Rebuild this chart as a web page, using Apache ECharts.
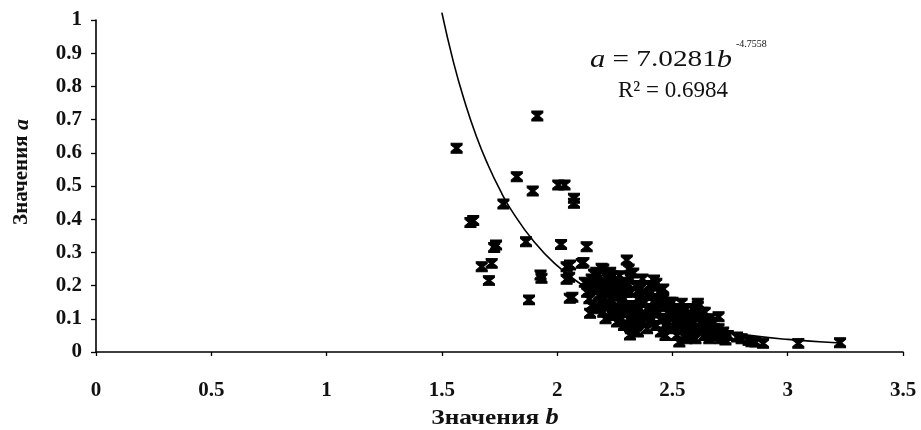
<!DOCTYPE html>
<html>
<head>
<meta charset="utf-8">
<script src="https://cdn.jsdelivr.net/npm/echarts@6/dist/echarts.min.js"></script>
<style>html,body{margin:0;padding:0;background:#fff;}#c{width:921px;height:430px;}</style>
</head>
<body>
<div id="c"></div>
<script>
const samples = [
  [1.564,0.614],[1.914,0.711],[1.825,0.528],[1.894,0.485],[2.005,0.503],[2.032,0.503],
  [2.073,0.463],[2.073,0.448],[1.767,0.446],[1.624,0.390],[1.636,0.396],[1.735,0.322],
  [1.727,0.315],[1.865,0.332],[2.017,0.324],[2.128,0.317],[1.673,0.257],[1.716,0.267],
  [1.704,0.215],[1.928,0.232],[1.932,0.222],[1.878,0.157],[2.041,0.257],[2.056,0.262],
  [2.041,0.219],[2.052,0.225],[2.055,0.162],[2.066,0.165],[2.107,0.267],[2.114,0.270],
  [2.143,0.117],[2.302,0.277],[2.316,0.051],[2.193,0.252],
  [2.12,0.21],[2.13,0.18],[2.14,0.16],[2.15,0.22],[2.15,0.14],[2.16,0.19],[2.17,0.24],
  [2.17,0.13],[2.18,0.17],[2.19,0.21],[2.19,0.15],[2.20,0.12],[2.20,0.25],[2.21,0.18],[2.21,0.10],
  [2.22,0.22],[2.22,0.14],[2.23,0.16],[2.23,0.24],[2.24,0.11],[2.24,0.19],[2.25,0.13],[2.25,0.21],
  [2.26,0.17],[2.26,0.09],[2.27,0.23],[2.27,0.15],[2.28,0.12],[2.28,0.19],[2.29,0.08],[2.29,0.16],
  [2.30,0.21],[2.30,0.13],
  [2.31,0.25],[2.31,0.10],[2.32,0.18],[2.32,0.07],[2.33,0.238],[2.33,0.14],[2.34,0.11],[2.34,0.20],
  [2.35,0.16],[2.35,0.06],[2.36,0.13],[2.36,0.19],[2.37,0.09],[2.37,0.22],[2.38,0.15],[2.38,0.11],
  [2.39,0.17],[2.39,0.07],[2.40,0.13],[2.40,0.20],
  [2.41,0.10],[2.42,0.217],[2.42,0.15],[2.43,0.207],[2.43,0.08],[2.44,0.12],[2.44,0.18],[2.45,0.06],
  [2.45,0.14],[2.46,0.10],[2.46,0.16],[2.47,0.136],[2.47,0.05],[2.48,0.12],[2.48,0.09],[2.49,0.15],
  [2.50,0.07],[2.50,0.11],
  [2.51,0.13],[2.52,0.05],[2.52,0.09],[2.53,0.03],[2.53,0.12],[2.54,0.147],[2.54,0.07],[2.55,0.10],
  [2.56,0.04],[2.56,0.13],[2.57,0.08],[2.58,0.11],[2.58,0.05],[2.59,0.09],[2.60,0.12],[2.60,0.04],
  [2.61,0.147],[2.61,0.137],[2.62,0.106],[2.62,0.07],[2.63,0.09],[2.64,0.05],[2.64,0.12],[2.65,0.08],
  [2.66,0.04],[2.66,0.10],[2.67,0.06],[2.68,0.09],[2.69,0.05],[2.70,0.106],[2.70,0.07],[2.71,0.04],
  [2.72,0.06],[2.73,0.036],[2.74,0.05],
  [2.16,0.235],[2.18,0.205],[2.20,0.16],[2.22,0.19],[2.24,0.23],[2.25,0.17],[2.27,0.20],[2.28,0.10],
  [2.30,0.18],[2.32,0.22],[2.33,0.12],[2.35,0.20],[2.36,0.10],[2.37,0.17],[2.39,0.13],[2.40,0.09],
  [2.41,0.18],[2.42,0.12],[2.44,0.15],[2.45,0.10],[2.46,0.19],[2.47,0.08],[2.49,0.12],[2.50,0.15],
  [2.51,0.09],[2.52,0.13],[2.53,0.08],[2.55,0.13],[2.56,0.07],[2.57,0.11],[2.58,0.08],[2.59,0.13],
  [2.60,0.07],[2.62,0.09],[2.63,0.12],[2.65,0.06],[2.67,0.09],[2.68,0.07],[2.20,0.20],[2.26,0.12],
  [2.34,0.08],[2.43,0.16],
  [2.78,0.045],[2.80,0.04],[2.83,0.035],[2.843,0.031],[2.86,0.03],[2.893,0.026],[3.046,0.026],[3.227,0.028]
];

// Power trend curve as drawn in the picture
const trendB = [1.5,1.55,1.6,1.65,1.7,1.75,1.8,1.9,2.0,2.1,2.2,2.3,2.4,2.6,2.8,3.0,3.23];
const trendA = [1.022,0.874,0.752,0.649,0.564,0.491,0.429,0.332,0.260,0.206,0.165,0.134,0.109,0.075,0.053,0.038,0.027];

const equationMain = '{i|a} = 7.0281{i|b}';
const equationExp = '-4.7558';
const rSquared = 'R² = 0.6984';
const xName = 'Значения ';
const yName = 'Значения ';

const FONT = '"Liberation Serif", "Times New Roman", serif';
const hourglass = 'path://M0,0H10V1.8L6.4,5L10,8.2V10H0V8.2L3.6,5L0,1.8Z';

const chart = echarts.init(document.getElementById('c'), null, {renderer: 'canvas'});
chart.setOption({
  animation: false,
  backgroundColor: '#fff',
  grid: {left: 96, right: 18, top: 20, bottom: 78, containLabel: false},
  xAxis: {
    type: 'value', min: 0, max: 3.5, interval: 0.5,
    axisLine: {show: true, onZero: false, lineStyle: {color: '#000', width: 1.6}},
    axisTick: {show: true, inside: false, length: 4, lineStyle: {color: '#000', width: 1.3}},
    axisLabel: {color: '#111', fontFamily: FONT, fontSize: 21, fontWeight: 'bold', margin: 28},
    splitLine: {show: false}
  },
  yAxis: {
    type: 'value', min: 0, max: 1, interval: 0.1,
    axisLine: {show: true, onZero: false, lineStyle: {color: '#000', width: 1.6}},
    axisTick: {show: true, inside: false, length: 5, lineStyle: {color: '#000', width: 1.3}},
    axisLabel: {color: '#111', fontFamily: FONT, fontSize: 21, fontWeight: 'bold', margin: 14},
    splitLine: {show: false}
  },
  graphic: [
    {type: 'text', x: 661, y: 60, scaleX: 1.22, style: {text: equationMain, fill: '#111', font: '24px ' + FONT,
      align: 'center', verticalAlign: 'middle',
      rich: {i: {fontStyle: 'italic', fontFamily: FONT, fontSize: 25, fill: '#111'}}}},
    {type: 'text', x: 736, y: 44, style: {text: equationExp, fill: '#111', font: '10px ' + FONT,
      align: 'left', verticalAlign: 'middle'}},
    {type: 'text', x: 673, y: 91, style: {text: rSquared, fill: '#111', font: '23px ' + FONT,
      align: 'center', verticalAlign: 'middle'}},
    {type: 'text', x: 495, y: 418, scaleX: 1.15, style: {text: xName + '{i|b}', fill: '#111', font: 'bold 22px ' + FONT,
      align: 'center', verticalAlign: 'middle',
      rich: {i: {fontStyle: 'italic', fontWeight: 'bold', fontFamily: FONT, fontSize: 23, fill: '#111'}}}},
    {type: 'text', x: 22, y: 172, rotation: Math.PI / 2, style: {text: yName + '{i|a}', fill: '#111', font: 'bold 21px ' + FONT,
      align: 'center', verticalAlign: 'middle',
      rich: {i: {fontStyle: 'italic', fontWeight: 'bold', fontFamily: FONT, fontSize: 22, fill: '#111'}}}}
  ],
  series: [
    {
      type: 'line', data: trendB.map((b, i) => [b, trendA[i]]), smooth: true,
      showSymbol: false, clip: false, z: 3,
      lineStyle: {color: '#000', width: 1.6}
    },
    {
      type: 'scatter', data: samples, symbol: hourglass, symbolSize: [11, 10], z: 2,
      itemStyle: {color: '#000', borderColor: '#000', borderWidth: 1, opacity: 1}
    }
  ]
});
</script>
</body>
</html>
